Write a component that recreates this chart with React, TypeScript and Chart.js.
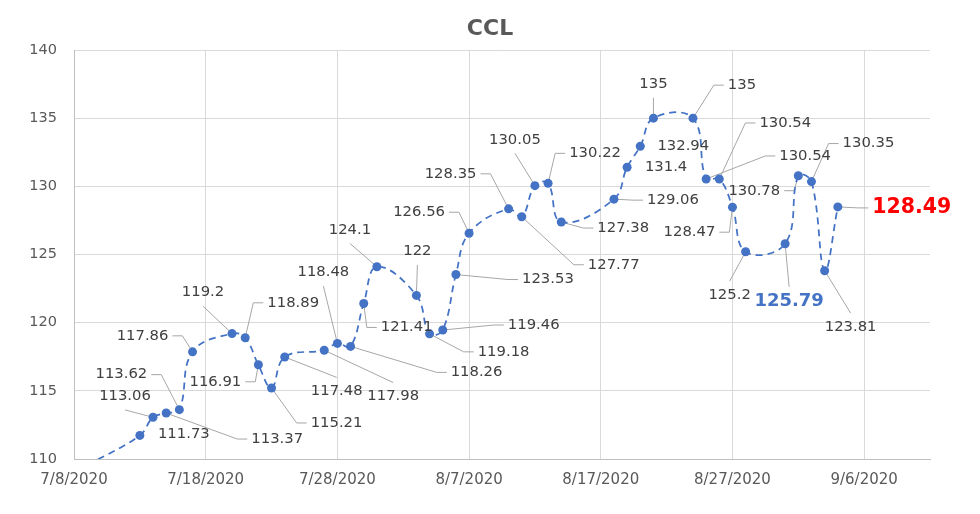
import { useEffect, useRef } from "react";
import { Chart, registerables } from "chart.js";

Chart.register(...registerables);

// ---- data ----
const chartTitle = "CCL";
const dates = [
  "7/9/2020", "7/13/2020", "7/14/2020", "7/15/2020", "7/16/2020", "7/17/2020",
  "7/20/2020", "7/21/2020", "7/22/2020", "7/23/2020", "7/24/2020",
  "7/27/2020", "7/28/2020", "7/29/2020", "7/30/2020", "7/31/2020",
  "8/3/2020", "8/4/2020", "8/5/2020", "8/6/2020", "8/7/2020",
  "8/10/2020", "8/11/2020", "8/12/2020", "8/13/2020", "8/14/2020",
  "8/18/2020", "8/19/2020", "8/20/2020", "8/21/2020",
  "8/24/2020", "8/25/2020", "8/26/2020", "8/27/2020", "8/28/2020",
  "8/31/2020", "9/1/2020", "9/2/2020", "9/3/2020", "9/4/2020",
];
const values = [
  109.55, 111.73, 113.06, 113.37, 113.62, 117.86,
  119.2, 118.89, 116.91, 115.21, 117.48,
  117.98, 118.48, 118.26, 121.41, 124.1,
  122, 119.18, 119.46, 123.53, 126.56,
  128.35, 127.77, 130.05, 130.22, 127.38,
  129.06, 131.4, 132.94, 135,
  135, 130.54, 130.54, 128.47, 125.2,
  125.79, 130.78, 130.35, 123.81, 128.49,
];
const xTickDates = ["7/8/2020", "7/18/2020", "7/28/2020", "8/7/2020", "8/17/2020", "8/27/2020", "9/6/2020"];
const xAxisStart = "7/8/2020";
const xAxisEnd = "9/11/2020";
const yMin = 110;
const yMax = 140;
const yStep = 5;

// ---- label layout (pixel offsets of label centre from its point, leader style) ----
type LabelLayout = [number, number, "S" | "V" | "N"] | null;
const labelLayout: LabelLayout[] = [
  null, [44, -1, "N"], [-28, -21, "V"], [111, 26, "S"], [-58, -35, "S"], [-50, -16, "S"],
  [-29, -41, "V"], [48, -35, "S"], [-43, 17, "S"], [65, 35, "S"], [52, 34, "V"],
  [69, 46, "V"], [-14, -71, "V"], [126, 26, "S"], [43, 24, "S"], [-27, -37, "V"],
  [1, -44, "V"], [74, 18, "S"], [91, -5, "S"], [92, 5, "S"], [-50, -21, "S"],
  [-58, -35, "S"], [92, 48, "S"], [-20, -46, "V"], [47, -30, "S"], [62, 6, "S"],
  [59, 1, "S"], [39, 0, "N"], [43, 0, "N"], [0, -34, "V"],
  [49, -33, "S"], [99, -23, "S"], [66, -56, "S"], [-43, 25, "S"], [-16, 43, "V"],
  [4, 58, "V"], [-44, 15, "S"], [57, -38, "S"], [26, 56, "V"], [74, 1, "S"],
];
const highlightStyles: Record<string, { color: string; size: number; bold: boolean }> = {
  "8/31/2020": { color: "#4472C4", size: 18, bold: true },
  "9/4/2020": { color: "#FF0000", size: 20.5, bold: true },
};

const FONT = "'DejaVu Sans', sans-serif";

function dayNum(s: string): number {
  const [m, d, y] = s.split("/").map(Number);
  return Math.round(Date.UTC(y, m - 1, d) / 86400000);
}
function fmtDay(n: number): string {
  const dt = new Date(n * 86400000);
  return `${dt.getUTCMonth() + 1}/${dt.getUTCDate()}/${dt.getUTCFullYear()}`;
}

function labelFont(i: number) {
  const hs = highlightStyles[dates[i]];
  const size = hs ? hs.size : 14.8;
  const bold = hs ? hs.bold : false;
  const color = hs ? hs.color : "#404040";
  return { size, color, font: `${bold ? "bold " : ""}${size}px ${FONT}` };
}

function labelGeom(ctx: CanvasRenderingContext2D, i: number, px: number, py: number) {
  const lay = labelLayout[i];
  if (!lay) return null;
  const f = labelFont(i);
  ctx.font = f.font;
  const text = String(values[i]);
  const w = ctx.measureText(text).width;
  return { text, w, cx: px + lay[0], cy: py + lay[1], mode: lay[2], dx: lay[0], dy: lay[1], f };
}

const labelPlugin = {
  id: "pointLabels",
  beforeDatasetsDraw(chart: any) {
    const ctx: CanvasRenderingContext2D = chart.ctx;
    const meta = chart.getDatasetMeta(0);
    ctx.save();
    ctx.strokeStyle = "#A6A6A6";
    ctx.lineWidth = 1;
    ctx.setLineDash([]);
    meta.data.forEach((pt: any, i: number) => {
      const g = labelGeom(ctx, i, pt.x, pt.y);
      if (!g || g.mode === "N") return;
      ctx.beginPath();
      if (g.mode === "S") {
        const edge = g.dx > 0 ? g.cx - g.w / 2 - 4 : g.cx + g.w / 2 + 4;
        const stub = g.dx > 0 ? edge - 10 : edge + 10;
        ctx.moveTo(edge, g.cy);
        ctx.lineTo(stub, g.cy);
        ctx.lineTo(pt.x, pt.y);
      } else {
        const off = g.f.size * 0.38 + 8;
        const ay = g.dy < 0 ? g.cy + off : g.cy - off;
        ctx.moveTo(g.cx, ay);
        ctx.lineTo(pt.x, pt.y);
      }
      ctx.stroke();
    });
    ctx.restore();
  },
  afterDatasetsDraw(chart: any) {
    const ctx: CanvasRenderingContext2D = chart.ctx;
    const meta = chart.getDatasetMeta(0);
    ctx.save();
    ctx.textAlign = "center";
    ctx.textBaseline = "middle";
    meta.data.forEach((pt: any, i: number) => {
      const g = labelGeom(ctx, i, pt.x, pt.y);
      if (!g) return;
      ctx.font = g.f.font;
      ctx.fillStyle = g.f.color;
      ctx.fillText(g.text, g.cx, g.cy);
    });
    ctx.restore();
  },
  afterDraw(chart: any) {
    const ctx: CanvasRenderingContext2D = chart.ctx;
    ctx.save();
    ctx.font = `bold 22px ${FONT}`;
    ctx.fillStyle = "#595959";
    ctx.textAlign = "center";
    ctx.textBaseline = "middle";
    ctx.fillText(chartTitle, chart.width / 2, 29);
    ctx.restore();
  },
};

export default function App() {
  const ref = useRef<HTMLCanvasElement | null>(null);
  useEffect(() => {
    if (!ref.current) return;
    const chart = new Chart(ref.current, {
      type: "line",
      data: {
        datasets: [
          {
            data: dates.map((d, i) => ({ x: dayNum(d), y: values[i] })),
            borderColor: "#4472C4",
            borderWidth: 1.75,
            borderDash: [7, 5],
            tension: 0.4,
            capBezierPoints: false,
            pointRadius: 4.5,
            pointBackgroundColor: "#4472C4",
            pointBorderColor: "#4472C4",
            pointBorderWidth: 0,
            clip: { left: 0, top: 20, right: 20, bottom: 0 },
          } as any,
        ],
      },
      options: {
        animation: false,
        responsive: true,
        maintainAspectRatio: false,
        layout: { padding: { left: 0, right: 50, top: 50, bottom: 0 } },
        plugins: {
          legend: { display: false },
          tooltip: { enabled: false },
          title: { display: false },
        },
        scales: {
          x: {
            type: "linear",
            min: dayNum(xAxisStart),
            max: dayNum(xAxisEnd),
            afterBuildTicks: (s: any) => {
              s.ticks = xTickDates.map((d) => ({ value: dayNum(d) }));
            },
            afterFit: (s: any) => {
              s.height = 55;
            },
            ticks: {
              autoSkip: false,
              maxRotation: 0,
              color: "#595959",
              font: { family: FONT, size: 15 },
              padding: 12,
              callback: (v: any) => fmtDay(Number(v)),
            },
            grid: { color: "#D9D9D9", drawTicks: false, lineWidth: 1 },
            border: { color: "#BFBFBF" },
          },
          y: {
            min: yMin,
            max: yMax,
            afterFit: (s: any) => {
              s.width = 74;
            },
            ticks: {
              stepSize: yStep,
              color: "#595959",
              font: { family: FONT, size: 14.5 },
              padding: 17,
            },
            grid: { color: "#D9D9D9", drawTicks: false, lineWidth: 1 },
            border: { color: "#BFBFBF" },
          },
        },
      },
      plugins: [labelPlugin],
    });
    return () => chart.destroy();
  }, []);
  return (
    <div style={{ position: "absolute", left: 0, top: 0, width: 980, height: 514, background: "#fff" }}>
      <canvas ref={ref} />
    </div>
  );
}
